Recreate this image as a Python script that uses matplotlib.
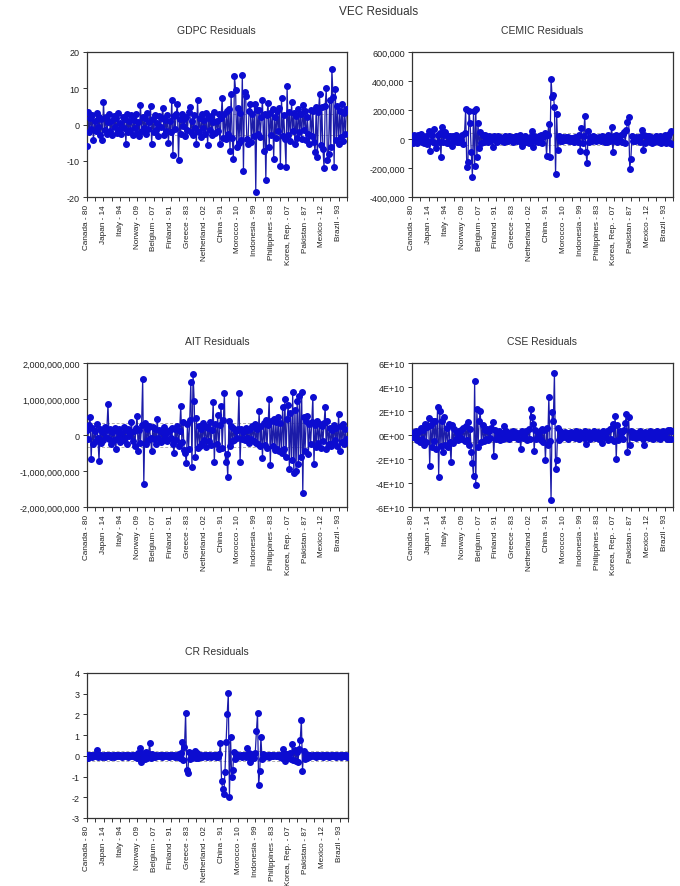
import numpy as np
import matplotlib
matplotlib.use("Agg")
import matplotlib.pyplot as plt
from matplotlib.ticker import FuncFormatter, MultipleLocator

plt.rcParams['font.family'] = ['Liberation Sans', 'DejaVu Sans']

# country - year labels shown on the x axis (one every 15 observations)
tick_labels = ['Canada - 80', 'Japan - 14', 'Italy - 94', 'Norway - 09', 'Belgium - 07',
               'Finland - 91', 'Greece - 83', 'Netherland - 02', 'China - 91', 'Morocco - 10',
               'Indonesia - 99', 'Philippines - 83', 'Korea, Rep. - 07', 'Pakistan - 87',
               'Mexico - 12', 'Brazil - 93']
tick_step = 15

# GDPC residuals
gdpc = [-6.0, 3.5, -2.1, 1.8, -1.2, 2.6, -4.2, 0.9, -1.8, 3.1, -0.6, 2.2, -2.9, 1.4, -4.2, 6.2, -1.5, 2.0, -2.6, 0.7,
        2.9, -1.9, 1.1, -3.0, 2.4, -0.8, 1.7, -2.3, 3.2, -1.4, 0.5, -2.7, 2.1, -1.0, 1.6, -5.3, 2.8, -2.0, 0.9, -1.6,
        2.5, -2.8, 1.3, -1.1, 3.0, -2.4, 0.6, -3.1, 5.5, -1.7, 2.2, -0.9, 1.9, -2.6, 3.3, -1.2, 0.8, 5.2, -5.3, 1.5,
        -2.2, 2.7, -1.5, 0.4, -3.2, 2.3, -0.7, 1.8, 4.6, -2.9, 1.2, -1.9, 2.6, -5.0, 1.0, -2.1, 6.8, -8.5, 2.4, -1.3,
        3.0, 5.7, -9.9, 1.6, -2.5, 2.9, -0.5, 1.4, -3.3, 2.1, -1.6, 3.4, 4.8, -2.2, 0.9, -2.8, 2.5, -1.0, -5.3, 6.8,
        -2.0, 1.7, -3.4, 2.8, -0.9, 1.3, -2.7, 3.1, -5.6, 1.9, -1.4, 2.4, -3.0, 0.6, 3.5, -2.3, 1.1, -1.8, 2.9, -5.3,
        1.8, 7.4, -3.6, 2.9, -4.1, 3.7, -2.5, 4.3, -7.3, 8.5, -3.8, -9.4, 13.3, 9.6, -6.2, 4.5, -5.1, 3.2, -4.4, 13.7,
        -12.9, 9.0, 8.0, -3.9, -5.3, 3.6, 5.7, -4.7, 2.8, -3.3, 5.6, -18.5, 3.9, -2.6, 4.1, -3.5, 2.2, 6.8, -7.4, 3.0,
        -15.4, 2.6, 6.0, -6.2, 3.3, -2.9, 4.4, -9.4, 2.1, -3.7, 3.8, -1.9, 4.6, -11.5, 7.4, -3.2, 2.7, -4.0, -11.7, 10.6,
        -2.8, 3.5, -4.5, 6.1, -1.7, 3.2, -5.3, 2.4, -3.6, 4.2, -2.1, 2.9, -3.9, 5.3, -1.4, 3.6, -4.3, 2.0, -2.6, -5.3,
        4.1, -3.1, 3.7, -4.8, -7.6, 4.9, -9.0, 3.4, 8.3, -5.6, 4.7, -6.8, -12.0, 5.2, 10.0, -9.9, -8.0, 6.7, -6.1, 15.4,
        7.6, -11.6, 9.9, -4.2, 5.1, -5.3, 3.8, -3.4, 5.7, -4.6, 3.1, -2.7, 4.4]

# CEMIC residuals, thousands
cemic_k = [20, -25, 30, -18, 12, -30, 25, -10, 35, -22, 15, -28, 10, 22, -35, 53, -85, -15, 28, -20,
           67, -30, -62, 25, -18, 40, -126, 85, -20, 30, 46, -25, 18, -30, 22, 15, -46, 20, -12, 25,
           -18, 10, -22, 15, -8, 28, -35, 40, 205, -195, -161, 195, 108, -90, -260, 195, -184, 205, -126, 108,
           -60, 45, -30, 25, -20, 30, -15, 10, -22, 18, -12, 15, -57, 20, -10, 14, -18, 22, -8, 12,
           -15, 10, -20, 18, -12, 8, -16, 20, -10, 15, -22, 12, -8, 18, -14, 10, 25, -20, -46, 15,
           -12, 20, -18, 10, -25, 15, -10, 57, -53, 22, -15, 12, -20, 18, -10, 25, -30, 15, 20, 39,
           -115, 30, 103, -122, 414, 287, 306, 223, -241, 172, -76, 20, -15, 10, -12, 15, -8, 12, -10, 14,
           -12, 8, -15, 10, -18, 12, -8, 15, -20, 25, -85, 74, -30, 20, 161, -92, -168, 53, -20, 15,
           -12, 18, -10, 14, -16, 10, -8, 12, -14, 20, -10, 15, -18, 12, -22, 25, -15, 10, 80, -92,
           20, -15, 25, -18, 12, -10, 30, -20, 35, 45, -25, 60, 115, 154, -207, -138, 20, -15, 10, -12,
           15, -10, 12, -18, 20, 62, -76, 25, -30, 18, -12, 22, -20, 15, -25, 10, -18, 22, -15, 12,
           -20, 18, -25, 15, -12, 28, -30, 20, -22, 35, -28, 56, -35]

# AIT residuals, millions
ait_m = [150, -120, 280, 509, -667, 200, -250, 120, -180, 310, -90, -731, 160, -210, 80, -150, 230, -60, 140, 861,
         -100, 180, -240, 90, -130, 200, -389, 110, -70, 160, -200, 60, -150, 220, -80, 130, -260, 170, -40, 90,
         352, -180, 120, -300, 200, 537, -435, 150, -220, 280, 1556, -1361, 320, -240, 180, -150, 260, -90, -435, 210,
         -120, 170, -260, 444, -80, 140, -200, 90, -150, 230, -60, 110, -180, 70, 150, -90, 200, -240, -509, 180,
         -150, 260, -300, 120, 815, -200, 350, -420, -509, -787, 300, -380, 420, 1463, -898, 1695, 954, -620, 480, -360,
         250, -300, 180, -220, 320, -150, 260, -340, 200, -180, 350, -280, 150, 926, -759, 300, -250, 565, -400, 280,
         815, -350, 420, 1157, -759, -528, -1176, 380, -300, 250, -180, 200, -150, 120, -90, 160, 1167, -759, 180, -120,
         90, -150, 200, -80, 130, -210, 160, -100, 240, -170, 300, -220, 180, -260, 657, -300, 250, -639, 340, -280,
         420, -350, 280, 1000, -833, 380, -300, 450, -420, 350, -380, 500, -450, 320, -500, 768, -400, 1000, -600, 450,
         843, -944, 600, -700, 1185, -1065, 700, -991, 954, -800, 1093, -600, 1185, -1620, 500, -450, 380, 537, -528, 300,
         -250, 350, 1065, -806, 280, -320, 400, -220, 300, -350, 250, -180, 320, 787, -400, 380, -250, 200, -300, 150,
         -220, 280, -150, 200, -300, 583, -435, 250, -200, 300, -260, 180, -120]

# CSE residuals, billions
cse_b = [1.5, -2.0, 2.8, -1.2, 3.5, -4.0, 2.2, -5.5, 6.0, -3.0, 4.5, -8.0, 9.5, -6.0, 7.0, 14.2, -25.6, 8.0, -10.0, 12.0,
         -5.0, 11.7, -11.7, 23.1, -35.3, 19.7, -9.0, 12.0, -14.0, 14.7, -8.0, 6.0, -10.0, 9.2, -6.0, -22.8, 8.5, -7.0, 5.0, -3.5,
         2.5, -4.0, 3.0, -2.0, 4.5, -3.0, 6.0, -5.0, 7.5, -4.0, 10.6, -8.0, 5.0, -14.4, -23.6, -33.9, 45.3, -41.4, 21.7, -9.7,
         12.0, 19.7, -6.0, 8.0, -5.0, 4.0, -3.0, 5.0, -4.0, 3.0, -2.5, 6.0, 10.6, -17.8, 4.0, -3.0, 2.5, -2.0, 3.5, -4.0,
         2.0, -3.0, 7.8, -2.5, 3.0, -2.0, 1.5, -3.5, 2.5, -1.5, 3.0, -2.0, 2.5, -1.0, 2.0, -3.0, 1.5, -11.7, 3.0, -2.5,
         2.0, -1.5, 3.5, -4.0, 5.0, -3.0, 21.7, 14.7, 9.0, -13.1, 4.0, -3.0, 2.5, -2.0, 3.0, -4.5, 5.0, -6.0, 4.0, -20.8,
         6.0, -8.0, 31.4, -5.0, -53.9, 18.9, 12.0, 51.4, -28.3, -20.8, 6.0, -4.0, 3.0, -2.5, 2.0, -1.5, 2.5, -2.0, 1.5, -3.0,
         2.0, -1.5, 2.5, -2.0, 1.0, -2.5, 3.0, -1.5, 2.0, -3.0, 2.5, -2.0, 1.5, -2.5, 3.0, -7.5, 2.0, -1.5, 2.5, -3.0,
         1.5, -2.0, 3.0, -2.5, 2.0, -1.0, 2.5, -3.5, 2.0, -6.5, 3.0, -2.0, 2.5, -1.5, 3.0, -4.0, 5.0, -3.0, 6.0, 9.0,
         -5.0, 16.1, -20.0, 8.0, -4.0, 3.0, -2.0, 2.5, -3.0, 4.0, 10.0, 17.5, -14.4, 15.0, -8.0, 3.0, -2.0, 2.5, -1.5, 2.0,
         -2.5, 1.5, -2.0, 3.0, -1.5, 2.0, -3.0, -8.3, 2.5, -2.0, 1.5, -2.5, 3.0, -1.5, 2.0, -3.0, 2.5, -2.0, 3.5, -2.5,
         2.0, -3.0, 2.5, -1.5, 3.0, -2.0, 2.5, -3.5, 4.0, -3.0, 4.5, -3.5, 3.0]

# CR residuals
cr = [0.05, -0.08, 0.04, -0.03, 0.06, -0.05, 0.03, -0.02, 0.08, 0.28, -0.06, 0.04, -0.03, 0.05, -0.04, 0.02, -0.05, 0.06, -0.03, 0.04,
      -0.02, 0.05, -0.04, 0.03, -0.05, 0.02, 0.04, -0.03, 0.05, -0.02, 0.03, -0.04, 0.02, -0.03, 0.04, -0.02, 0.03, -0.05, 0.02, -0.03,
      0.04, -0.02, 0.03, -0.04, 0.05, -0.08, 0.12, 0.38, -0.28, 0.15, -0.12, 0.10, -0.15, 0.18, -0.10, 0.08, 0.60, -0.12, 0.10, -0.06,
      0.05, -0.04, 0.03, -0.02, 0.04, -0.03, 0.02, -0.04, 0.03, -0.02, 0.05, -0.03, 0.02, -0.04, 0.03, -0.02, 0.04, -0.03, 0.02, -0.05,
      0.04, -0.06, 0.08, -0.10, 0.15, 0.65, -0.20, 0.41, 2.05, -0.68, -0.84, 0.20, -0.15, 0.12, -0.10, 0.08, 0.22, -0.12, 0.15, -0.08,
      0.06, -0.04, 0.03, -0.05, 0.04, -0.02, 0.03, -0.04, 0.05, -0.03, 0.02, -0.04, 0.03, -0.02, 0.04, -0.05, 0.03, -0.06, 0.10, 0.60,
      -1.23, -1.60, -1.84, -0.80, 0.65, 2.02, 3.02, -2.00, 0.90, -1.04, -0.68, 0.20, -0.15, 0.08, -0.05, 0.04, -0.03, 0.05, -0.04, 0.03,
      -0.02, 0.04, -0.05, 0.38, 0.12, -0.30, 0.10, -0.08, 0.06, -0.12, 0.15, 1.18, 2.05, -1.41, -0.72, 0.92, -0.15, 0.10, -0.06, 0.04,
      -0.03, 0.05, -0.04, 0.02, -0.03, 0.04, -0.02, 0.05, -0.03, 0.04, -0.02, 0.03, -0.04, 0.06, -0.08, 0.33, -0.25, 0.10, -0.06, 0.08,
      -0.10, 0.12, -0.15, 0.57, -0.20, 0.30, -0.25, 0.18, -0.30, 0.35, 0.78, 1.73, -0.72, 0.25, -0.15, 0.10, -0.08, 0.06, -0.04, 0.05,
      -0.03, 0.04, -0.02, 0.03, -0.05, 0.02, -0.03, 0.04, -0.02, 0.03, -0.04, 0.02, -0.03, 0.05, -0.02, 0.03, -0.04, 0.02, -0.03, 0.04,
      -0.02, 0.03, -0.04, 0.05, -0.03, 0.02, -0.04, 0.03, -0.02, 0.04, -0.03, 0.05, -0.04]

# standard error bands (dashed lines)
se_gdpc = 2.9
se_cemic = 43000
se_ait = 325e6
se_cse = 6.2e9
se_cr = 0.25


def comma_fmt(v, pos):
    return f"{v:,.0f}"


def sci_fmt(v, pos):
    return f"{v:.0E}"


def int_fmt(v, pos):
    return f"{v:.0f}"


def residual_panel(fig, rect, title, values, se, ylim, ystep, fmt):
    ax = fig.add_axes(rect)
    y = np.asarray(values, dtype=float)
    x = np.arange(len(y))
    ax.axhline(se, color='#b0b0b0', lw=0.7, ls=(0, (3, 2)), zorder=1)
    ax.axhline(-se, color='#b0b0b0', lw=0.7, ls=(0, (3, 2)), zorder=1)
    ax.plot(x, y, color='#1c1ca8', lw=0.9, zorder=2)
    ax.plot(x, y, ls='none', marker='o', ms=4.0, color='#0c0cd0', mec='#0c0cd0', zorder=3)
    ax.set_xlim(0, len(y) - 1)
    ax.set_ylim(*ylim)
    ax.yaxis.set_major_locator(MultipleLocator(ystep))
    ax.yaxis.set_major_formatter(FuncFormatter(fmt))
    ax.set_xticks(np.arange(len(tick_labels)) * tick_step)
    ax.set_xticks(np.arange(len(tick_labels)) * tick_step + tick_step / 2, minor=True)
    ax.set_xticklabels(tick_labels, rotation=90, fontsize=5.9, color='#222222')
    ax.tick_params(axis='x', which='both', length=3, width=0.7, color='#333333', pad=2)
    ax.tick_params(axis='y', length=3, width=0.7, color='#333333', labelsize=6.5,
                   labelcolor='#222222', pad=2)
    for s in ax.spines.values():
        s.set_color('#333333')
        s.set_linewidth(0.9)
    ax.set_title(title, fontsize=7.5, color='#333333', pad=14)
    return ax


fig = plt.figure(figsize=(6.8, 8.87), dpi=100)
fig.patch.set_facecolor('white')

W, H = 680.0, 887.0


def rect(x0, x1, y0, y1):
    return [x0 / W, 1 - y1 / H, (x1 - x0) / W, (y1 - y0) / H]


residual_panel(fig, rect(86.7, 347, 53, 198), 'GDPC Residuals', gdpc, se_gdpc,
               (-20, 20), 10, int_fmt)
residual_panel(fig, rect(411.7, 673, 53, 198), 'CEMIC Residuals', np.array(cemic_k) * 1e3, se_cemic,
               (-400000, 600000), 200000, comma_fmt)
residual_panel(fig, rect(86.7, 347, 364, 508), 'AIT Residuals', np.array(ait_m) * 1e6, se_ait,
               (-2e9, 2e9), 1e9, comma_fmt)
residual_panel(fig, rect(411.7, 673, 364, 508), 'CSE Residuals', np.array(cse_b) * 1e9, se_cse,
               (-6e10, 6e10), 2e10, sci_fmt)
residual_panel(fig, rect(86.7, 348, 674, 819), 'CR Residuals', cr, se_cr,
               (-3, 4), 1, int_fmt)

fig.text(379 / W, 1 - 12 / H, 'VEC Residuals', ha='center', va='center', fontsize=8.5, color='#333333')

fig.savefig('out.png', dpi=100)
